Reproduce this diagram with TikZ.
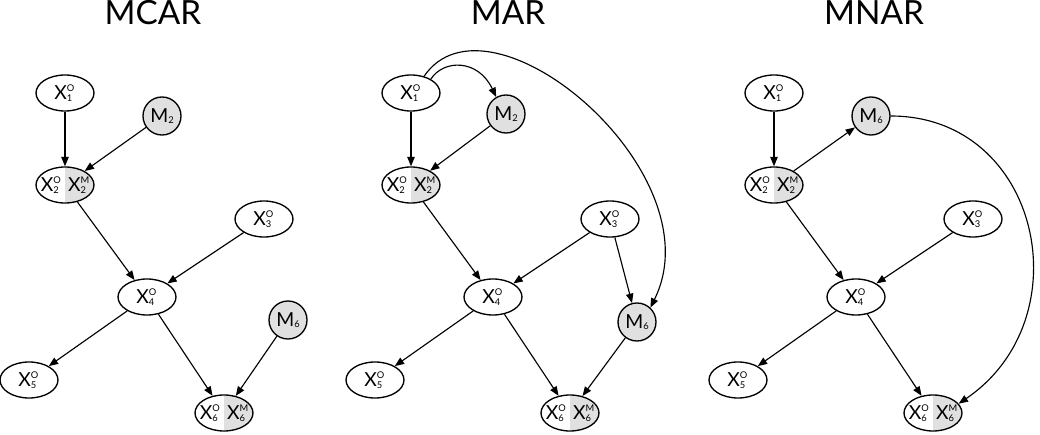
\documentclass[tikz,border=0pt]{standalone}
\usepackage{fontspec}
\setmainfont{Lato}
\usepackage{tikz}
\usetikzlibrary{shapes.geometric,arrows.meta}

% variable with superscript (O/M) and index
\newcommand{\xvar}[3]{#1\makebox[0.45em][l]{\fontsize{7}{8}\selectfont\rlap{\raisebox{6pt}{#2}}\raisebox{-1.3pt}{#3}}}
% missingness indicator
\newcommand{\mvar}[1]{M\raisebox{-1.3pt}{\fontsize{7}{8}\selectfont #1}}
\newcommand{\xsplit}[1]{\makebox[0pt]{\xvar{X}{O}{#1}\hspace{4.5pt}\xvar{X}{M}{#1}}}

\begin{document}
\begin{tikzpicture}[
    x=0.75pt, y=0.75pt,
    title/.style={font=\fontsize{25}{30}\selectfont, anchor=base},
    obs/.style={ellipse, draw=black, line width=1pt, minimum width=43.5pt, minimum height=27pt, inner sep=0pt, font=\fontsize{14.5}{16}\selectfont},
    part/.style={obs, path picture={\fill[black!12] (path picture bounding box.north) rectangle (path picture bounding box.south east);}},
    miss/.style={circle, draw=black, line width=1pt, fill=black!12, minimum size=28.5pt, inner sep=0pt, font=\fontsize{14.5}{16}\selectfont},
    arrow/.style={-{Triangle[length=7pt,width=5.5pt]}, line width=0.85pt}
]
\useasboundingbox (0,0) rectangle (1040,-435);

% MCAR
\node[title] (t1) at (153,-25) {MCAR};
\node[obs] (a1) at (65,-93) {\xvar{X}{O}{1}};
\node[miss] (am2) at (162,-116) {\mvar{2}};
\node[part] (a2) at (65,-185) {\xsplit{2}};
\node[obs] (a3) at (264,-219) {\xvar{X}{O}{3}};
\node[obs] (a4) at (147,-297) {\xvar{X}{O}{4}};
\node[miss] (am6) at (288,-320) {\mvar{6}};
\node[obs] (a5) at (29,-380) {\xvar{X}{O}{5}};
\node[part] (a6) at (224,-413) {\xsplit{6}};

\draw[arrow] (a1) -- (a2);
\draw[arrow] (am2) -- (a2);
\draw[arrow] (a2) -- (a4);
\draw[arrow] (a3) -- (a4);
\draw[arrow] (a4) -- (a5);
\draw[arrow] (a4) -- (a6);
\draw[arrow] (am6) -- (a6);

% MAR
\node[title] (t2) at (508,-25) {MAR};
\node[obs] (b1) at (411,-93) {\xvar{X}{O}{1}};
\node[miss] (bm2) at (506,-114) {\mvar{2}};
\node[part] (b2) at (411,-185) {\xsplit{2}};
\node[obs] (b3) at (610,-219) {\xvar{X}{O}{3}};
\node[obs] (b4) at (493,-297) {\xvar{X}{O}{4}};
\node[miss] (bm6) at (637,-322) {\mvar{6}};
\node[obs] (b5) at (375,-380) {\xvar{X}{O}{5}};
\node[part] (b6) at (570,-413) {\xsplit{6}};

\draw[arrow] (b1) -- (b2);
\draw[arrow] (b1.35) .. controls +(13,20) and +(-18,38) .. (bm2.120);
\draw[arrow] (b1.52) .. controls +(65,95) and +(67,135) .. (bm6.47);
\draw[arrow] (bm2) -- (b2);
\draw[arrow] (b2) -- (b4);
\draw[arrow] (b3) -- (b4);
\draw[arrow] (b3) -- (bm6);
\draw[arrow] (b4) -- (b5);
\draw[arrow] (b4) -- (b6);
\draw[arrow] (bm6) -- (b6);

% MNAR
\node[title] (t3) at (874,-25) {MNAR};
\node[obs] (c1) at (774,-93) {\xvar{X}{O}{1}};
\node[miss] (cm6) at (871,-116) {\mvar{6}};
\node[part] (c2) at (774,-185) {\xsplit{2}};
\node[obs] (c3) at (973,-219) {\xvar{X}{O}{3}};
\node[obs] (c4) at (856,-297) {\xvar{X}{O}{4}};
\node[obs] (c5) at (738,-380) {\xvar{X}{O}{5}};
\node[part] (c6) at (933,-413) {\xsplit{6}};

\draw[arrow] (c1) -- (c2);
\draw[arrow] (c2) -- (cm6);
\draw[arrow] (cm6.east) .. controls +(150,0) and +(125,85) .. (c6.20);
\draw[arrow] (c2) -- (c4);
\draw[arrow] (c3) -- (c4);
\draw[arrow] (c4) -- (c5);
\draw[arrow] (c4) -- (c6);

\end{tikzpicture}
\end{document}
